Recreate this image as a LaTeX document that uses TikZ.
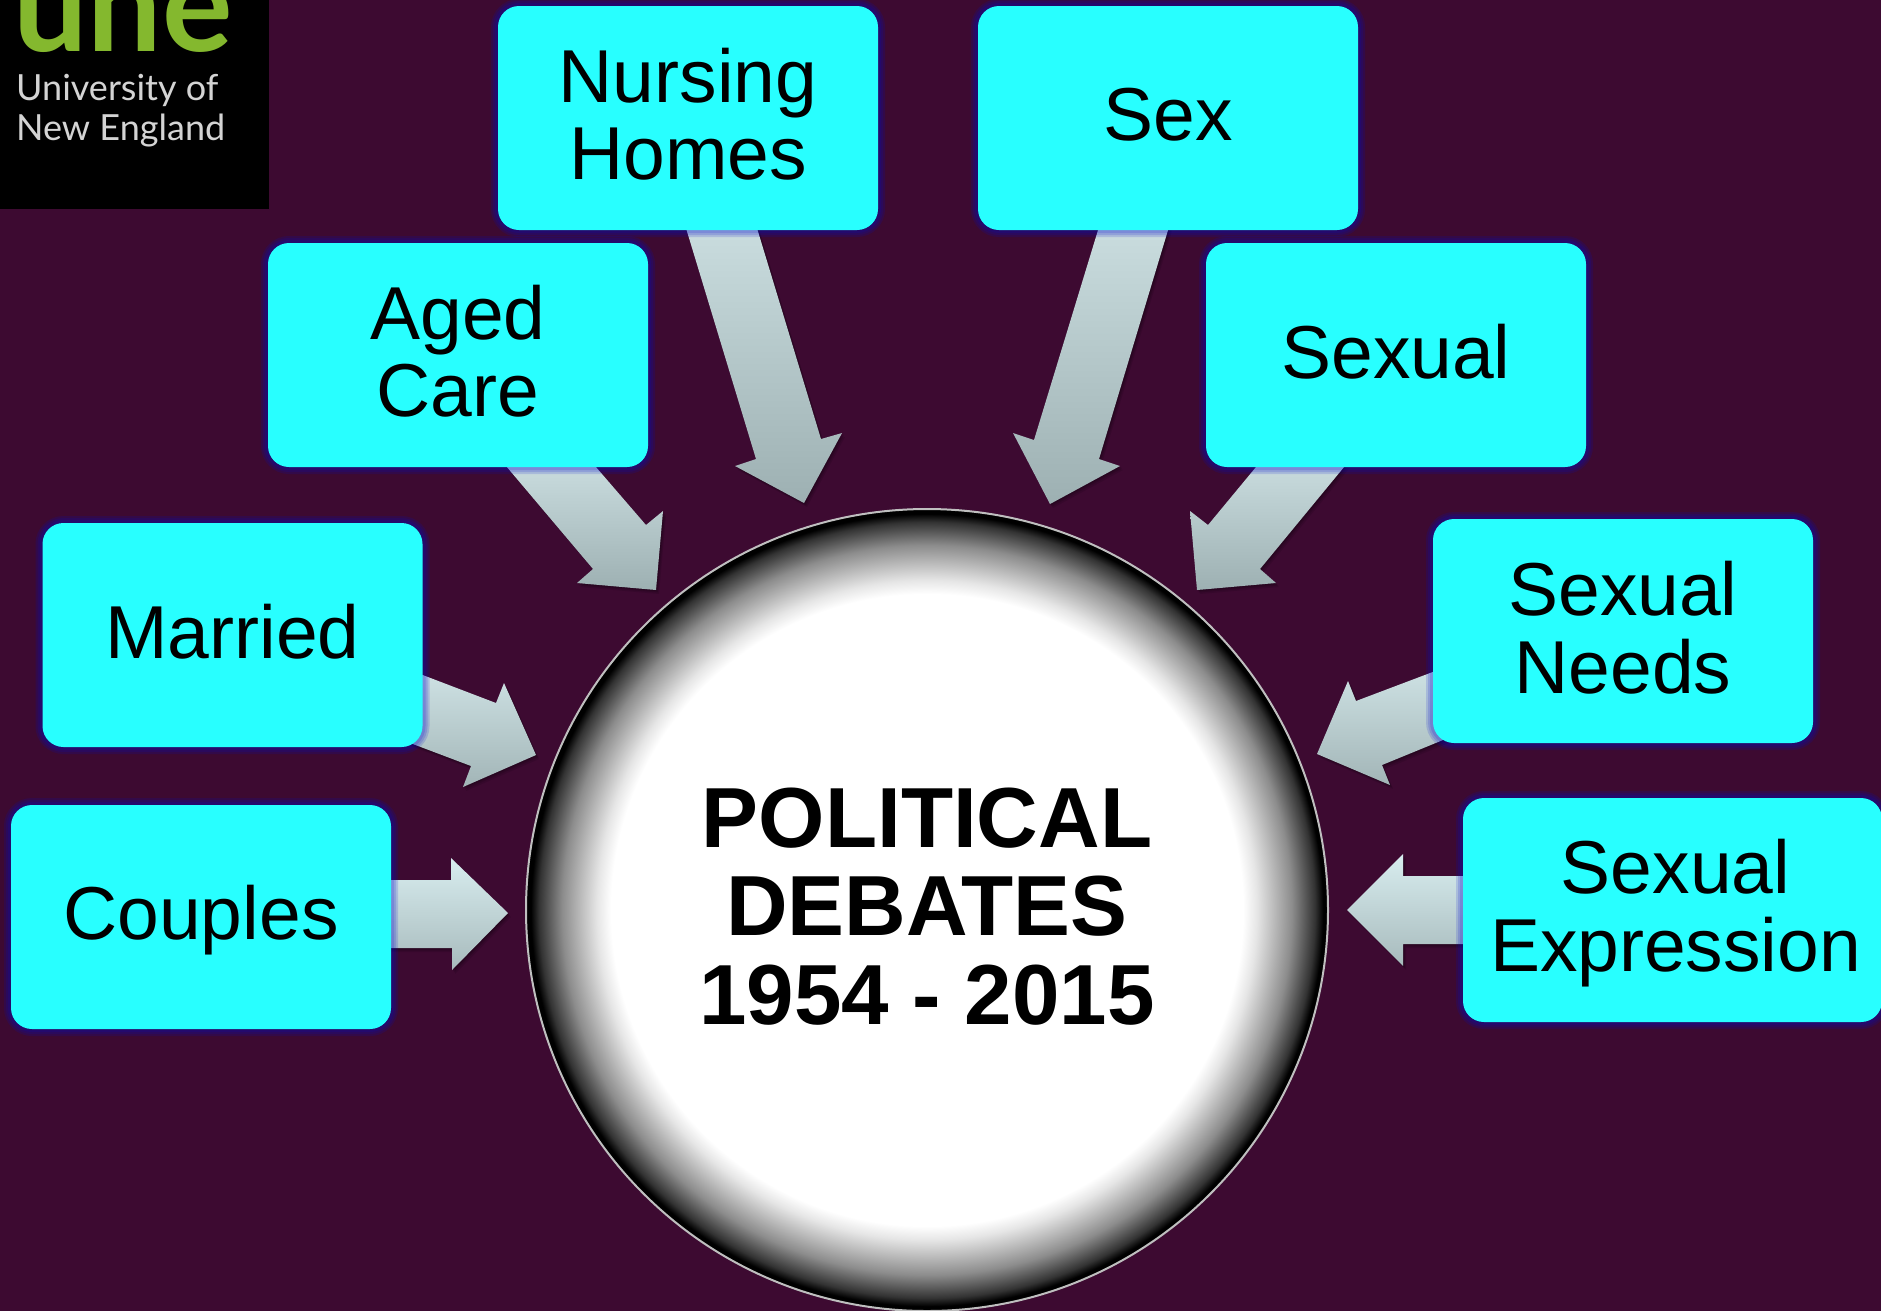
\documentclass[tikz,border=0pt]{standalone}
\usepackage{fontspec}
\setmainfont{Liberation Sans}
\newfontfamily\logofont{Lato}
\usetikzlibrary{calc}
\definecolor{pagebg}{HTML}{3D0A31}
\definecolor{boxcyan}{HTML}{28FFFF}
\definecolor{glowblue}{RGB}{0,10,206}
\definecolor{arrowtop}{HTML}{CADDDF}
\definecolor{arrowbot}{HTML}{9DB0B2}
\definecolor{arrowtoplight}{HTML}{D8EDEF}
\definecolor{arrowbotlight}{HTML}{A7BABC}
\definecolor{unegreen}{HTML}{84B82E}
\definecolor{unegrey}{HTML}{D4D4D4}
\pgfdeclarelayer{pagelayer}
\pgfdeclarelayer{blockarrows}
\pgfsetlayers{pagelayer,blockarrows,main}
\pgfdeclareradialshading{hubshade}{\pgfpoint{0bp}{0bp}}{%
  color(0bp)=(white);
  color(19.7bp)=(white);
  color(20.57bp)=(black!10);
  color(22.75bp)=(black!45);
  color(24.19bp)=(black!80);
  color(24.7bp)=(black);
  color(25bp)=(black);
  color(50bp)=(black)}
\newcommand{\liftedtext}[2]{\raisebox{#1}[\height][\depth]{\begin{tabular}{@{}c@{}}#2\end{tabular}}}
\tikzset{
  topicbox/.style={
    rectangle,rounded corners=21pt,minimum width=380pt,minimum height=224pt,
    inner sep=0pt,align=center,fill=boxcyan,text=black,
    font=\fontsize{75}{77}\selectfont,
    preaction={draw=glowblue,line width=14pt,opacity=.15},
    preaction={draw=glowblue,line width=10pt,opacity=.15},
    preaction={draw=glowblue,line width=6pt,opacity=.15}},
  hubcircle/.style={
    circle,minimum size=802pt,inner sep=0pt,shading=hubshade,
    draw=white!75!black,line width=2pt,align=center,text=black,
    font=\fontsize{85.3}{88.5}\selectfont\bfseries},
  blockarrow/.style={
    preaction={fill=black,fill opacity=.10,transform canvas={shift={(3pt,-4pt)}}},
    preaction={fill=black,fill opacity=.12,transform canvas={shift={(2pt,-2.5pt)}}},
    preaction={fill=black,fill opacity=.15,transform canvas={shift={(1pt,-1.2pt)}}},
    top color=arrowtop,bottom color=arrowbot,shading angle=0},
  lightarrow/.style={top color=arrowtoplight,bottom color=arrowbotlight,shading angle=0},
  midarrow/.style={top color=arrowtop!70!arrowtoplight,bottom color=arrowbot!50!arrowbotlight,shading angle=0}
}
% #2,#3 tail corners on the box; #4..#8 head outline, offset from the hub centre
\newcommand{\blockarrowpath}[8][]{%
  \path[blockarrow,#1] #2 -- ($(hub.center)+#4$) -- ($(hub.center)+#5$) -- ($(hub.center)+#6$)
    -- ($(hub.center)+#7$) -- ($(hub.center)+#8$) -- #3 -- cycle;}
\begin{document}
\begin{tikzpicture}[x=1pt,y=-1pt]
\useasboundingbox (0,0) rectangle (1881,1310);
\begin{pgfonlayer}{pagelayer}
  \fill[pagebg] (-5,-5) rectangle (1886,1315);
\end{pgfonlayer}

% logo
\fill[black] (-5,-5) rectangle (269,209);
\begin{scope}
  \clip (0,0) rectangle (269,209);
  \node[anchor=base west,inner sep=0pt,text=unegreen,font=\logofont\bfseries\fontsize{132}{132}\selectfont] (unemark) at (13,51) {une};
\end{scope}
\node[anchor=base west,inner sep=0pt,text=unegrey,font=\logofont\fontsize{36}{36}\selectfont] (uneline1) at (16,100) {University of};
\node[anchor=base west,inner sep=0pt,text=unegrey,font=\logofont\fontsize{36}{36}\selectfont] (uneline2) at (16,140) {New England};

% hub
\node[hubcircle] (hub) at (927,910) {\liftedtext{-8pt}{POLITICAL\\DEBATES\\1954 - 2015}};

% topic boxes
\node[topicbox] (nursing) at (688,118) {\liftedtext{-7pt}{Nursing\\Homes}};
\node[topicbox] (sex)     at (1168,118) {\liftedtext{-7pt}{Sex}};
\node[topicbox] (aged)    at (458,355) {\liftedtext{-7pt}{Aged\\Care}};
\node[topicbox] (sexual)  at (1396,355) {\liftedtext{-7.5pt}{Sexual}};
\node[topicbox] (married) at (232.5,635) {\liftedtext{-8pt}{Married}};
\node[topicbox] (needs)   at (1623,631) {\liftedtext{-8pt}{Sexual\\Needs}};
\node[topicbox] (couples) at (201,917) {\liftedtext{-7pt}{Couples}};
\node[topicbox,minimum width=419pt] (expr) at (1672.5,910) {\hspace*{6pt}\liftedtext{-7pt}{Sexual\\Expression}};

% block arrows
\begin{pgfonlayer}{blockarrows}
  \blockarrowpath{($(nursing.south west)+(258,-6)$)}{($(nursing.south west)+(187,-6)$)}{(-106,-471)}{(-85,-477)}{(-123,-407)}{(-192,-444)}{(-171,-451)}
  \blockarrowpath{($(sex.south west)+(122,-6)$)}{($(sex.south west)+(192,-6)$)}{(107,-470)}{(86,-477)}{(123,-406)}{(193,-444)}{(172,-451)}
  \blockarrowpath{($(aged.south west)+(324,-5)$)}{($(aged.south west)+(235,-5)$)}{(-281,-385)}{(-264,-399)}{(-271,-320)}{(-350,-327)}{(-334,-341)}
  \blockarrowpath{($(sexual.south west)+(55,-6)$)}{($(sexual.south west)+(143,-6)$)}{(281,-385)}{(263,-399)}{(270,-320)}{(349,-327)}{(333,-341)}
  \blockarrowpath[midarrow]{($(married.south east)+(-10,-76)$)}{($(married.south east)+(-20,-7)$)}{(-431,-207)}{(-423,-227)}{(-391,-155)}{(-464,-123)}{(-456,-144)}
  \blockarrowpath[lightarrow]{($(couples.south east)+(-6,-149)$)}{($(couples.south east)+(-6,-81)$)}{(-476,-30)}{(-476,-52)}{(-419,3)}{(-475,60)}{(-475,38)}
  \blockarrowpath[midarrow]{($(needs.south west)+(10,-75)$)}{($(needs.south west)+(17,-6)$)}{(429,-209)}{(421,-229)}{(390,-156)}{(463,-125)}{(455,-145)}
  \blockarrowpath[lightarrow]{($(expr.south west)+(6,-146)$)}{($(expr.south west)+(6,-78)$)}{(476,-34)}{(476,-56)}{(420,0)}{(476,56)}{(476,34)}
\end{pgfonlayer}
\end{tikzpicture}
\end{document}
